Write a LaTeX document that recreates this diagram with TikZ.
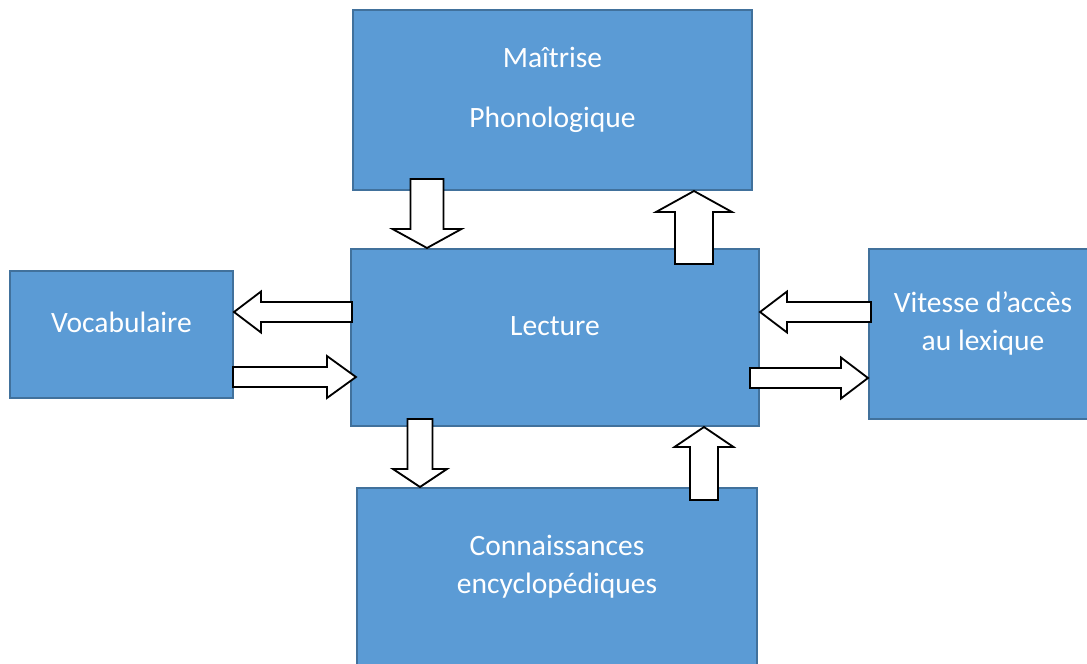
\documentclass[tikz,border=0pt]{standalone}
\usepackage{fontspec}
\setmainfont{Carlito}
\usetikzlibrary{calc}

\definecolor{boxfill}{HTML}{5B9BD5}
\definecolor{boxline}{HTML}{41719C}

% tip, angle, length, shaft half width, head half width, head length
\newcommand{\blockarrow}[6]{%
  \begin{scope}[shift={(#1)},rotate=#2]
    \draw[arrow box] (0,0) -- (-#6,#5) -- (-#6,#4) -- (-#3,#4)
      -- (-#3,-#4) -- (-#6,-#4) -- (-#6,-#5) -- cycle;
  \end{scope}}

\begin{document}
\begin{tikzpicture}[x=0.025cm,y=-0.025cm,
  main box/.style={rectangle,draw=boxline,fill=boxfill,line width=1.4pt,
    text=white,align=center,font=\fontsize{21pt}{27pt}\selectfont,
    text height=0.5cm,text depth=0.625cm},
  arrow box/.style={draw=black,fill=white,line width=1.3pt,line join=miter}]

  \useasboundingbox (0,0) rectangle (1087,664);
  \clip (0,0) rectangle (1087,664);

  \node[main box,minimum width=9.975cm,minimum height=4.5cm,text height=2cm]
    (MP) at (552.5,100) {Maîtrise\\[15.6pt]Phonologique};
  \node[main box,minimum width=10.2cm,minimum height=4.425cm]
    (L) at (555,337.5) {Lecture};
  \node[main box,minimum width=5.575cm,minimum height=3.175cm]
    (V) at (121.5,334.5) {Vocabulaire};
  \node[main box,minimum width=5.7cm,minimum height=4.25cm,text height=1.45cm]
    (VA) at (983,334) {Vitesse d’accès\\au lexique};
  \node[main box,minimum width=10cm,minimum height=4.45cm,text height=1.45cm]
    (CE) at (557,577) {Connaissances\\encyclopédiques};

  \blockarrow{427,0 |- L.north}{-90}{69}{16.5}{34.5}{19}
  \blockarrow{694,0 |- MP.south}{90}{73}{19}{38}{21}
  \blockarrow{V.east |- 0,312}{180}{118}{10}{20.5}{27}
  \blockarrow{$(L.west |- 0,377)+(6,0)$}{0}{123}{10}{21}{29}
  \blockarrow{L.east |- 0,312}{180}{111}{10}{20.5}{27}
  \blockarrow{VA.west |- 0,378}{0}{118}{10}{20.5}{27}
  \blockarrow{420,0 |- CE.north}{-90}{68}{12.5}{27}{18}
  \blockarrow{704,0 |- L.south}{90}{73}{14}{29.5}{20}
\end{tikzpicture}
\end{document}
